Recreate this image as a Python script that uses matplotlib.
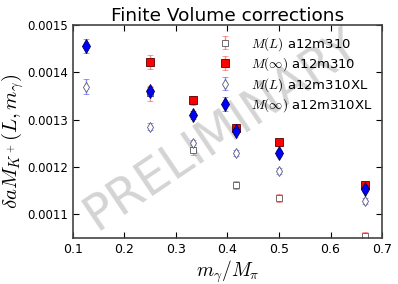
import matplotlib
matplotlib.use("Agg")
import matplotlib.pyplot as plt

plt.rcParams['mathtext.fontset'] = 'cm'
plt.rcParams['xtick.direction'] = 'in'
plt.rcParams['ytick.direction'] = 'in'

x_a12 = [0.25, 1/3, 5/12, 0.5, 2/3]
ML_a12 = [0.001356, 0.001236, 0.001162, 0.001135, 0.001055]
ML_a12_err = [0.000016, 0.000010, 0.000008, 0.000008, 0.000008]
Minf_a12 = [0.001422, 0.001341, 0.001282, 0.001252, 0.001162]
Minf_a12_err = [0.000015, 0.000010, 0.000008, 0.000006, 0.000005]

x_xl = [0.125, 0.25, 1/3, 5/12, 0.5, 2/3]
ML_xl = [0.001370, 0.001285, 0.001250, 0.001229, 0.001191, 0.001128]
ML_xl_err = [0.000015, 0.000007, 0.000007, 0.000006, 0.000006, 0.000006]
Minf_xl = [0.001456, 0.001360, 0.001310, 0.001277, 0.001229, 0.001153]
Minf_xl_err = [0.000015, 0.000010, 0.000008, 0.000007, 0.000006, 0.000006]

labels = [r'$M(L)$ a12m310', r'$M(\infty)$ a12m310',
          r'$M(L)$ a12m310XL', r'$M(\infty)$ a12m310XL']

fig = plt.figure(figsize=(3.98, 2.84), dpi=100)
ax = fig.add_axes([0.183, 0.162, 0.777, 0.750])

ax.text(0.48, 0.51, 'PRELIMINARY', transform=ax.transAxes, fontsize=35,
        color='#d4d4d4', rotation=34, ha='center', va='center', zorder=0)

ax.errorbar(x_a12, ML_a12, yerr=ML_a12_err, fmt='s', mfc='white', mec='#555555',
            mew=0.6, ms=3.8, ecolor=(1, 0, 0, 0.45), capsize=2.2, elinewidth=1,
            label=labels[0], zorder=2)
ax.errorbar(x_a12, Minf_a12, yerr=Minf_a12_err, fmt='s', mfc='red', mec='#550000',
            mew=0.6, ms=5.6, ecolor=(1, 0, 0, 0.45), capsize=2.2, elinewidth=1,
            label=labels[1], zorder=3)
ax.errorbar(x_xl, ML_xl, yerr=ML_xl_err, fmt='d', mfc='white', mec='#555577',
            mew=0.6, ms=5, ecolor=(0, 0, 1, 0.45), capsize=2.2, elinewidth=1,
            label=labels[2], zorder=2)
ax.errorbar(x_xl, Minf_xl, yerr=Minf_xl_err, fmt='d', mfc='blue', mec='#000044',
            mew=0.6, ms=7, ecolor=(0, 0, 1, 0.45), capsize=2.2, elinewidth=1,
            label=labels[3], zorder=4)

ax.set_xlim(0.1, 0.7)
ax.set_ylim(0.00105, 0.0015)
ax.set_xticks([0.1, 0.2, 0.3, 0.4, 0.5, 0.6, 0.7])
ax.set_yticks([0.0011, 0.0012, 0.0013, 0.0014, 0.0015])
ax.set_xticklabels(['0.1', '0.2', '0.3', '0.4', '0.5', '0.6', '0.7'])
ax.set_yticklabels(['0.0011', '0.0012', '0.0013', '0.0014', '0.0015'])
ax.tick_params(labelsize=8.5, top=True, right=True, length=4, width=0.8)
ax.tick_params(axis='x', labelsize=9)
for s in ax.spines.values():
    s.set_linewidth(1.2)
    s.set_color('#444444')

ax.set_title('Finite Volume corrections', fontsize=13.3, pad=3)
ax.set_xlabel(r'$m_\gamma/M_\pi$', fontsize=14, labelpad=2)
ax.set_ylabel(r'$\delta a M_{K^+}(L,m_\gamma)$', fontsize=15)
ax.yaxis.set_label_coords(-0.15, 0.453)

ax.legend(loc='upper right', frameon=False, fontsize=9.5, numpoints=1,
          handletextpad=0.9, labelspacing=0.2, borderaxespad=0.35)

fig.savefig('out.png', dpi=100, facecolor='white')
